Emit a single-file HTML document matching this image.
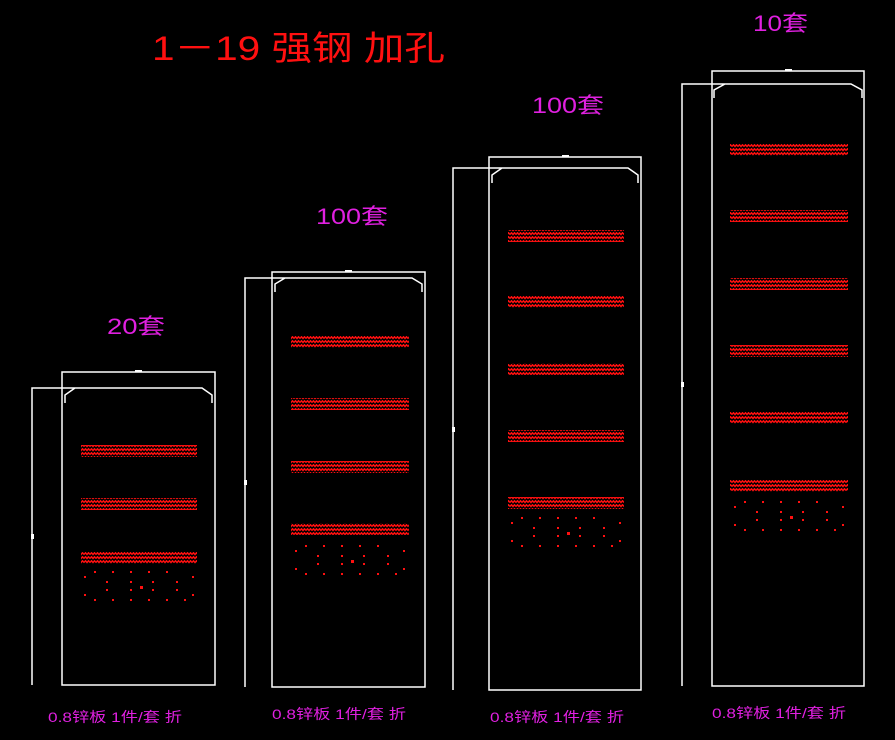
<!DOCTYPE html>
<html><head><meta charset="utf-8"><style>
html,body{margin:0;padding:0;background:#000;width:895px;height:740px;overflow:hidden}
svg{display:block}
.t{font-family:"Liberation Sans","Noto Sans CJK SC",sans-serif}
</style></head><body>
<svg width="895" height="740" viewBox="0 0 895 740" xmlns="http://www.w3.org/2000/svg">
<defs>
<pattern id="h" x="0" y="0" width="6" height="4" patternUnits="userSpaceOnUse">
<path d="M0,2.5 L1.5,0.8 L3,2.5 L4.5,0.8 L6,2.5" stroke="#ff1010" stroke-width="1.5" fill="none"/>
</pattern>
<g id="dots" fill="#ff1010">
<rect x="0" y="8" width="2" height="2"/><rect x="10" y="3" width="2" height="2"/><rect x="28" y="3" width="2" height="2"/>
<rect x="46" y="3" width="2" height="2"/><rect x="64" y="3" width="2" height="2"/><rect x="82" y="3" width="2" height="2"/>
<rect x="108" y="8" width="2" height="2"/><rect x="22" y="13" width="2" height="2"/><rect x="46" y="13" width="2" height="2"/>
<rect x="68" y="13" width="2" height="2"/><rect x="92" y="13" width="2" height="2"/><rect x="22" y="21" width="2" height="2"/>
<rect x="46" y="21" width="2" height="2"/><rect x="56" y="18" width="3" height="3"/><rect x="68" y="21" width="2" height="2"/>
<rect x="92" y="21" width="2" height="2"/><rect x="0" y="26" width="2" height="2"/><rect x="108" y="26" width="2" height="2"/>
<rect x="10" y="31" width="2" height="2"/><rect x="28" y="31" width="2" height="2"/><rect x="46" y="31" width="2" height="2"/>
<rect x="64" y="31" width="2" height="2"/><rect x="82" y="31" width="2" height="2"/><rect x="100" y="31" width="2" height="2"/>
</g>
</defs>
<g stroke="#fff" stroke-width="1.5" fill="none">
<rect x="62" y="372" width="153" height="313"/>
<path d="M32,685 V388 H75 L65,395 V403 M75,388 H202 L212,395 V403"/>
<rect x="272" y="272" width="153" height="415"/>
<path d="M245,687 V278 H285 L275,284 V292 M285,278 H412 L422,284 V292"/>
<rect x="489" y="157" width="152" height="533"/>
<path d="M453,690 V168 H502 L492,175 V183 M502,168 H628 L638,175 V183"/>
<rect x="712" y="71" width="152" height="615"/>
<path d="M682,686 V84 H725 L714,90 V98 M725,84 H851 L862,90 V98"/>
</g>
<g fill="#fff">
<rect x="135" y="370" width="7" height="2"/><rect x="345" y="270" width="7" height="2"/>
<rect x="562" y="155" width="7" height="2"/><rect x="785" y="69" width="7" height="2"/>
<rect x="31" y="534" width="3" height="5"/><rect x="244" y="480" width="3" height="5"/>
<rect x="452" y="427" width="3" height="5"/><rect x="681" y="382" width="3" height="5"/>
</g>
<g fill="url(#h)">
<rect x="81" y="445" width="116" height="12"/><rect x="81" y="498" width="116" height="12"/><rect x="81" y="552" width="116" height="12"/>
<rect x="291" y="336" width="118" height="12"/><rect x="291" y="398" width="118" height="12"/><rect x="291" y="461" width="118" height="12"/><rect x="291" y="523" width="118" height="12"/>
<rect x="508" y="230" width="116" height="12"/><rect x="508" y="296" width="116" height="12"/><rect x="508" y="363" width="116" height="12"/><rect x="508" y="430" width="116" height="12"/><rect x="508" y="497" width="116" height="12"/>
<rect x="730" y="144" width="118" height="12"/><rect x="730" y="210" width="118" height="12"/><rect x="730" y="278" width="118" height="12"/><rect x="730" y="345" width="118" height="12"/><rect x="730" y="412" width="118" height="12"/><rect x="730" y="480" width="118" height="12"/>
</g>
<use href="#dots" x="84" y="568"/>
<use href="#dots" x="295" y="542"/>
<use href="#dots" x="511" y="514"/>
<use href="#dots" x="734" y="498"/>
<g class="t" fill="#ff1010" font-size="34"><text x="152" y="60" textLength="293" lengthAdjust="spacingAndGlyphs">1－19 强钢 加孔</text></g>
<g class="t" fill="#e020e0" font-size="22">
<text x="107" y="334" textLength="58" lengthAdjust="spacingAndGlyphs">20套</text>
<text x="316" y="224" textLength="72" lengthAdjust="spacingAndGlyphs">100套</text>
<text x="532" y="113" textLength="72" lengthAdjust="spacingAndGlyphs">100套</text>
<text x="753" y="31" textLength="55" lengthAdjust="spacingAndGlyphs">10套</text>
</g>
<g class="t" fill="#e020e0" font-size="14">
<text x="48" y="722" textLength="134" lengthAdjust="spacingAndGlyphs">0.8锌板 1件/套 折</text>
<text x="272" y="719" textLength="134" lengthAdjust="spacingAndGlyphs">0.8锌板 1件/套 折</text>
<text x="490" y="722" textLength="134" lengthAdjust="spacingAndGlyphs">0.8锌板 1件/套 折</text>
<text x="712" y="718" textLength="134" lengthAdjust="spacingAndGlyphs">0.8锌板 1件/套 折</text>
</g>
</svg>
</body></html>
